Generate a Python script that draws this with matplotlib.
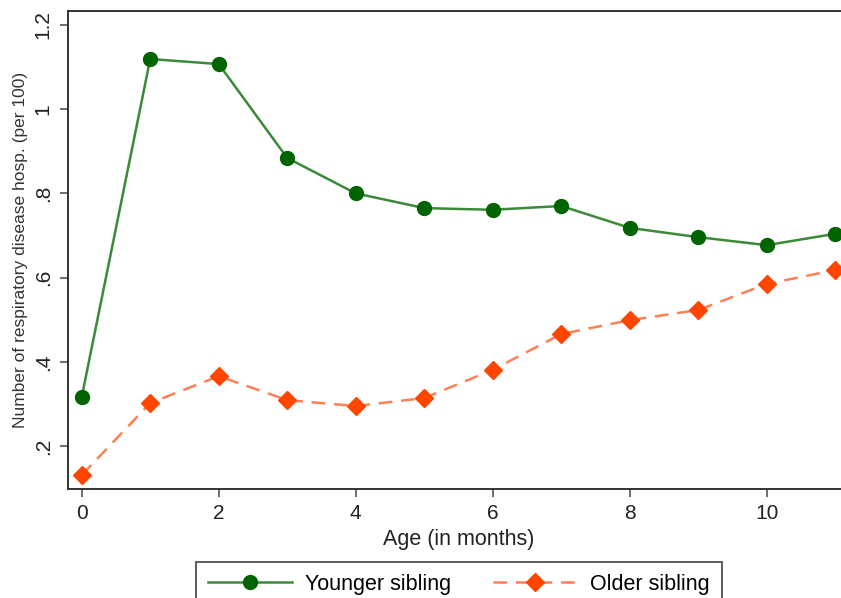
import matplotlib
matplotlib.use('Agg')
import matplotlib.pyplot as plt
from matplotlib.ticker import FixedLocator, FixedFormatter

plt.rcParams['font.family'] = ['Liberation Sans', 'DejaVu Sans']

# age in months
months = [0, 1, 2, 3, 4, 5, 6, 7, 8, 9, 10, 11]
# hospitalisations per 100
younger = [0.316, 1.119, 1.107, 0.884, 0.800, 0.765, 0.761, 0.770, 0.718, 0.696, 0.677, 0.704]
older = [0.131, 0.302, 0.366, 0.309, 0.295, 0.314, 0.381, 0.466, 0.499, 0.523, 0.585, 0.618]

y_ticks = [0.2, 0.4, 0.6, 0.8, 1.0, 1.2]
y_tick_labels = ['.2', '.4', '.6', '.8', '1', '1.2']
x_ticks = [0, 2, 4, 6, 8, 10]

fig = plt.figure(figsize=(8.41, 5.98), dpi=100)
ax = fig.add_axes([68/841, 109/598, 781/841, 478/598])

ax.plot(months, younger, color='#3a8a3a', lw=1.8, marker='o', ms=10,
        mfc='#006400', mec='#006400', label='Younger sibling', zorder=3)
ax.plot(months, older, color='#ff8055', lw=1.8, ls=(0, (5.5, 3.5)), marker='D', ms=9,
        mfc='#ff4500', mec='#ff4500', label='Older sibling', zorder=3)

ax.set_xlim(-0.2, 11.2)
ax.set_ylim(0.098, 1.233)
ax.xaxis.set_major_locator(FixedLocator(x_ticks))
ax.yaxis.set_major_locator(FixedLocator(y_ticks))
ax.yaxis.set_major_formatter(FixedFormatter(y_tick_labels))

for s in ax.spines.values():
    s.set_color('#333333')
    s.set_linewidth(1.4)
ax.tick_params(axis='both', length=6, width=1.2, color='#555555',
               labelsize=15, labelcolor='#222222', pad=5)
for lab in ax.get_yticklabels():
    lab.set_rotation(90)
    lab.set_va('center')

ax.set_xlabel('Age (in months)', fontsize=15.5, color='#222222', labelpad=4)
ax.set_ylabel('Number of respiratory disease hosp. (per 100)', fontsize=12.5,
              color='#333333', labelpad=4)

leg = fig.legend(loc='upper center', bbox_to_anchor=(459/841, 1 - 562/598), ncol=2,
                 fontsize=15.5, frameon=True, fancybox=False, handlelength=3.9,
                 columnspacing=1.95, borderpad=0.55, handletextpad=0.6, borderaxespad=0)
leg.get_frame().set_edgecolor('#333333')
leg.get_frame().set_linewidth(1.4)

fig.savefig('out.png', dpi=100)
